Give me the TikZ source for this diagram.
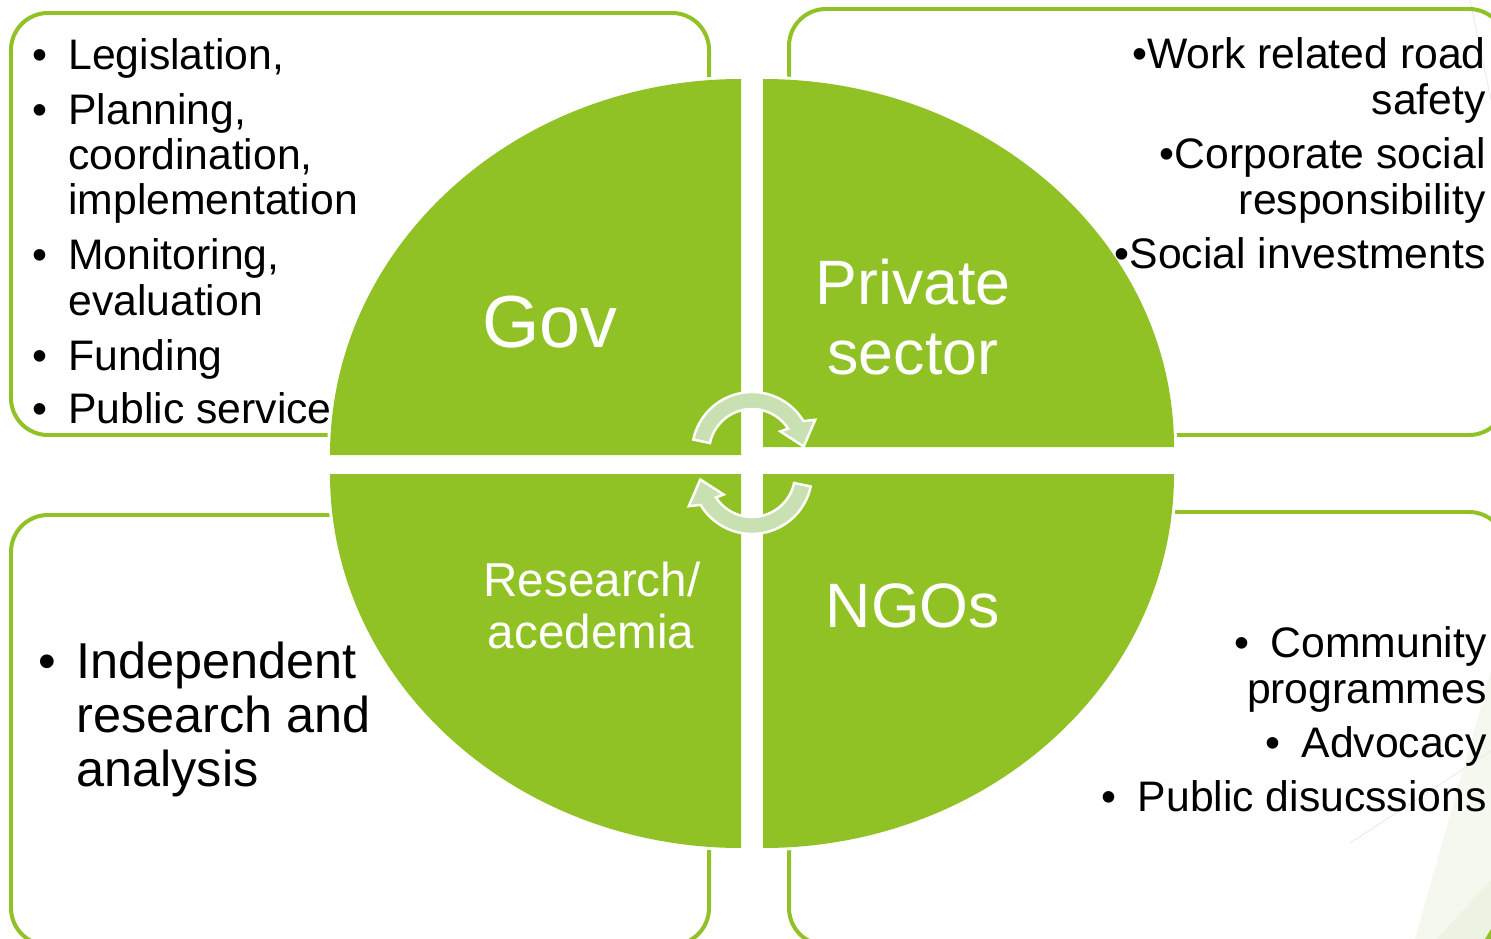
\documentclass[tikz,border=0pt]{standalone}
\usepackage{fontspec}
\setmainfont{Liberation Sans}

\definecolor{leaf}{RGB}{144,194,38}
\definecolor{cycfill}{RGB}{201,224,178}
\definecolor{facetA}{RGB}{244,248,238}
\definecolor{facetB}{RGB}{236,243,226}
\definecolor{facetline}{RGB}{234,234,234}

% bullet hung to the left of the line start
\newcommand{\bul}[1]{\llap{\textbullet\hspace{#1}}}

\tikzset{
  box/.style={draw=leaf, line width=2.27pt, rounded corners=0.74cm},
  quad/.style={fill=leaf, preaction={draw=white, line width=3.4pt}},
  cyc/.style={fill=cycfill, draw=white, line width=1.4pt, line join=miter},
  item/.style={font=\fontsize{24.3}{28}\selectfont, inner sep=0pt, anchor=base west},
  itemr/.style={item, anchor=base east},
  bigitem/.style={font=\fontsize{28.7}{34}\selectfont, inner sep=0pt, anchor=base west},
  lab/.style={text=white, inner sep=0pt, anchor=base},
  cyclearrow/.pic={
    \path[cyc] (168:60) arc[start angle=168, end angle=31, radius=60]
      -- (27:71) -- (6:52) -- (36:35) -- (33:43)
      arc[start angle=33, end angle=168, radius=43] -- cycle;
  }
}

\begin{document}
\begin{tikzpicture}[x=0.02cm, y=-0.02cm]
\useasboundingbox (0,0) rectangle (1491,939);
\fill[white] (0,0) rectangle (1491,939);

% faint theme decoration in the lower right corner
\fill[facetA] (1415,939) -- (1491,671) -- (1491,939) -- cycle;
\fill[facetB] (1437,939) -- (1491,880) -- (1491,939) -- cycle;
\fill[leaf] (1485,939) -- (1491,929) -- (1491,939) -- cycle;
\draw[facetline, line width=0.5pt] (1350,843) -- (1491,751);
\draw[facetline, line width=0.5pt] (1470,0) -- (1491,100);

% outlined text panels
\draw[box] (11,13) rectangle (709,435);
\draw[box] (789,9) rectangle (1506,435);
\draw[box] (11,515) rectangle (709,945);
\draw[box] (789,512) rectangle (1506,945);

% the four quarter shapes
\path[quad] (741,455) -- (330,455) arc[start angle=180, end angle=270, x radius=411, y radius=376] -- cycle;
\path[quad] (763,447) -- (763,79) arc[start angle=270, end angle=360, x radius=411, y radius=368] -- cycle;
\path[quad] (741,474) -- (330,474) arc[start angle=180, end angle=90, x radius=411, y radius=374] -- cycle;
\path[quad] (763,474) -- (1174,474) arc[start angle=0, end angle=90, x radius=411, y radius=374] -- cycle;

% cycle arrows in the middle
\pic[yscale=-1] at (752,452) {cyclearrow};
\pic[yscale=-1, rotate=180] at (752,474) {cyclearrow};

% quadrant labels
\node[lab, font=\fontsize{42}{48}\selectfont] (gov) at (550,347) {Gov};
\node[lab, font=\fontsize{35.7}{42}\selectfont] (priv1) at (913,304) {Private};
\node[lab, font=\fontsize{35.7}{42}\selectfont] (priv2) at (913,374) {sector};
\node[lab, font=\fontsize{27.1}{32}\selectfont] (res1) at (592,596) {Research/};
\node[lab, font=\fontsize{27.1}{32}\selectfont] (res2) at (591,648) {acedemia};
\node[lab, font=\fontsize{35.7}{42}\selectfont] (ngo) at (913,627) {NGOs};

% government tasks
\node[item] (leg) at (68,70) {\bul{12pt}Legislation,};
\node[item] (plan) at (68,125) {\bul{12pt}Planning,};
\node[item] (coord) at (68,170) {coordination,};
\node[item] (impl) at (68,215) {implementation};
\node[item] (mon) at (68,270) {\bul{12pt}Monitoring,};
\node[item] (eval) at (68,316) {evaluation};
\node[item] (fund) at (68,370) {\bul{12pt}Funding};
\node[item] (pub) at (68,423) {\bul{12pt}Public service};

% private sector tasks
\node[itemr] (work) at (1486,69) {\textbullet Work related road};
\node[itemr] (safe) at (1486,115) {safety};
\node[itemr] (corp) at (1486,169) {\textbullet Corporate social};
\node[itemr] (resp) at (1486,215) {responsibility};
\node[itemr] (soc) at (1486,269) {\textbullet Social investments};

% research tasks
\node[bigitem] (ind) at (76,678) {\bul{11.5pt}Independent};
\node[bigitem] (rsa) at (76,732) {research and};
\node[bigitem] (ana) at (76,786) {analysis};

% NGO tasks
\node[itemr] (comm) at (1487,657) {\bul{12pt}Community};
\node[itemr] (prog) at (1487,703) {programmes};
\node[itemr] (adv) at (1487,757) {\bul{12pt}Advocacy};
\node[itemr] (disc) at (1487,811) {\bul{12pt}Public disucssions};
\end{tikzpicture}
\end{document}
